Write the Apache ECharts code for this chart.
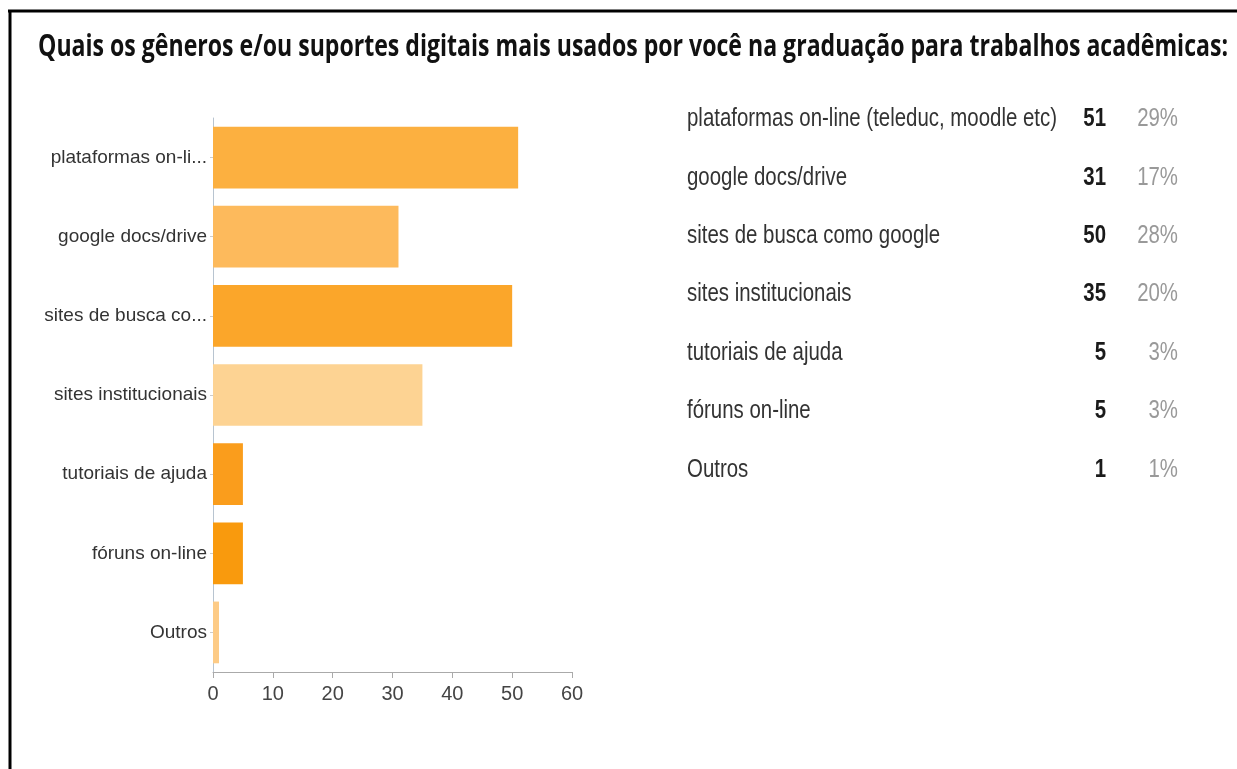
<!DOCTYPE html>
<html>
<head>
<meta charset="utf-8">
<script src="https://cdn.jsdelivr.net/npm/echarts@6/dist/echarts.min.js"></script>
<style>
html,body{margin:0;padding:0;background:#fff;}
#main{width:1237px;height:769px;}
</style>
</head>
<body>
<div id="main"></div>
<script>
const titleText = 'Quais os gêneros e/ou suportes digitais mais usados por você na graduação para trabalhos acadêmicas:';
const categories = ['plataformas on-line (teleduc, moodle etc)', 'google docs/drive', 'sites de busca como google', 'sites institucionais', 'tutoriais de ajuda', 'fóruns on-line', 'Outros'];
const shortLabels = ['plataformas on-li...', 'google docs/drive', 'sites de busca co...', 'sites institucionais', 'tutoriais de ajuda', 'fóruns on-line', 'Outros'];
const counts = [51, 31, 50, 35, 5, 5, 1];
const percents = ['29%', '17%', '28%', '20%', '3%', '3%', '1%'];
const barColors = ['#FCB040', '#FDBA5C', '#FBA62A', '#FDD393', '#FA9D1C', '#F99A0D', '#FDCB86'];
const xTicks = [0, 10, 20, 30, 40, 50, 60];

const FONT = '"Liberation Sans", Arial, sans-serif';
const TITLE_FONT = '"Open Sans", "Liberation Sans", sans-serif';

// measure text widths to compress (reference uses a narrow face)
const mctx = document.createElement('canvas').getContext('2d');
function textWidth(t, font){ mctx.font = font; return mctx.measureText(t).width; }

const titleFont = 'bold 30px ' + TITLE_FONT;
const titleScale = 1190 / textWidth(titleText, titleFont);
const rowFont = '26px ' + FONT;
const rowScale = 370 / textWidth(categories[0], rowFont);

const chart = echarts.init(document.getElementById('main'));

const tableEls = [];
const rowTop = 119, rowStep = 58.4;
categories.forEach((c, i) => {
  const y = rowTop + i * rowStep;
  tableEls.push({type:'text', x:687, y:y, scaleX:rowScale, style:{text:c, font:rowFont, fill:'#333', textAlign:'left', textVerticalAlign:'middle'}});
  tableEls.push({type:'text', x:1106, y:y, scaleX:rowScale, style:{text:String(counts[i]), font:'bold ' + rowFont, fill:'#1a1a1a', textAlign:'right', textVerticalAlign:'middle'}});
  tableEls.push({type:'text', x:1178, y:y, scaleX:rowScale, style:{text:percents[i], font:rowFont, fill:'#999', textAlign:'right', textVerticalAlign:'middle'}});
});

chart.setOption({
  animation:false,
  backgroundColor:'#fff',
  grid:{left:213, right:665, top:118, bottom:97, containLabel:false},
  xAxis:{
    type:'value', min:0, max:60, interval:10,
    axisLine:{show:true, lineStyle:{color:'#aaa', width:1}},
    axisTick:{show:true, length:6, lineStyle:{color:'#aaa'}},
    splitLine:{show:false},
    axisLabel:{fontFamily:FONT, fontSize:20, color:'#444', margin:12,
      formatter:v => xTicks.includes(v) ? String(v) : ''}
  },
  yAxis:{
    type:'category', inverse:true, data:shortLabels,
    axisLine:{show:true, lineStyle:{color:'#b8c4d0', width:1}},
    axisTick:{show:true, length:3, alignWithLabel:true, lineStyle:{color:'#ccc'}},
    axisLabel:{fontFamily:FONT, fontSize:19, color:'#333', margin:6}
  },
  series:[{
    type:'bar',
    barCategoryGap:'22%',
    data:counts.map((v,i)=>({value:v, itemStyle:{color:barColors[i]}}))
  }],
  graphic:[
    {type:'line', shape:{x1:8, y1:11, x2:1237, y2:11}, style:{stroke:'#000', lineWidth:3}},
    {type:'line', shape:{x1:10, y1:10, x2:10, y2:769}, style:{stroke:'#000', lineWidth:3}},
    {type:'text', x:38, y:47, scaleX:titleScale, style:{text:titleText, font:titleFont, fill:'#111', textAlign:'left', textVerticalAlign:'middle'}},
    ...tableEls
  ]
});
</script>
</body>
</html>
